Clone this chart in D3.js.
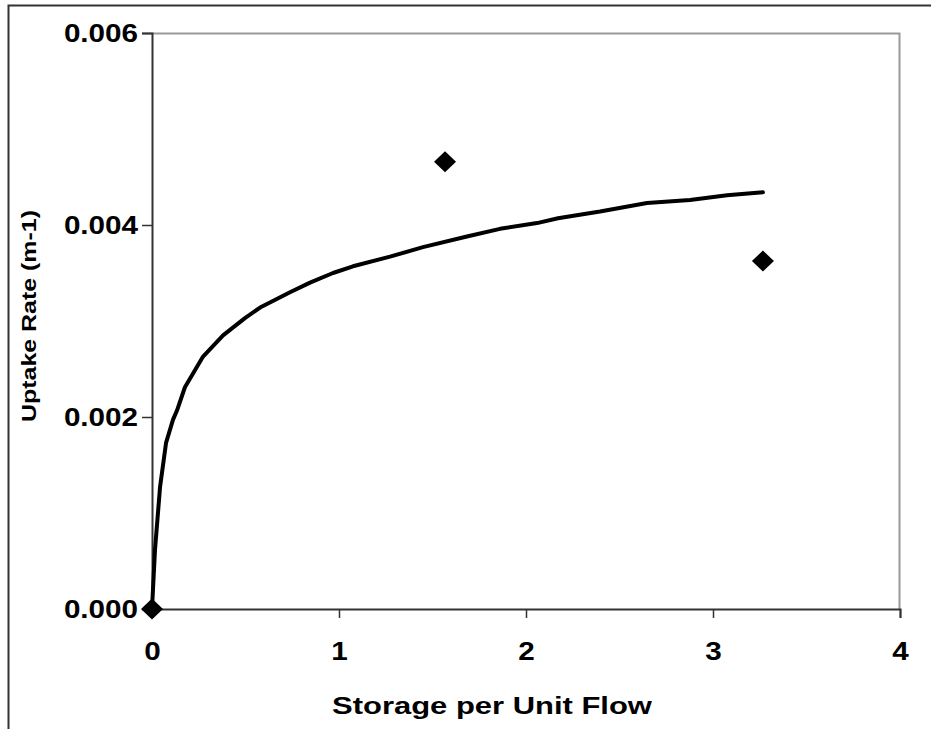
<!DOCTYPE html>
<html>
<head>
<meta charset="utf-8">
<script src="https://cdn.jsdelivr.net/npm/d3@7"></script>
<style>
  html, body { margin: 0; padding: 0; background: #fff; }
  svg { display: block; }
  text { font-family: "Liberation Sans", Arial, sans-serif; font-weight: bold; fill: #000; }
</style>
</head>
<body>
<svg id="chart" width="931" height="729"></svg>
<script>
// Measured uptake rate vs. storage per unit flow
const obsX = [0, 1.567, 3.267];
const obsY = [0, 0.00466, 0.003625];

// Fitted curve through the observations
const fitX = [0, 0.016, 0.043, 0.075, 0.112, 0.134, 0.176, 0.273, 0.380, 0.497, 0.578, 0.738,
              0.845, 0.968, 1.075, 1.273, 1.449, 1.684, 1.861, 2.059, 2.171, 2.396, 2.647,
              2.877, 3.075, 3.267];
const fitY = [0, 0.000615, 0.00127, 0.00173, 0.00197, 0.00207, 0.00231, 0.00263, 0.00285,
              0.00303, 0.00314, 0.00330, 0.00340, 0.00350, 0.00357, 0.00367, 0.00377, 0.00388,
              0.00396, 0.00402, 0.00407, 0.00414, 0.00423, 0.00426, 0.00431, 0.00434];

const xTicks = [0, 1, 2, 3, 4];
const yTicks = [0, 0.002, 0.004, 0.006];
const xTitle = "Storage per Unit Flow";
const yTitle = "Uptake Rate (m-1)";

const svg = d3.select("#chart");
const plotL = 152, plotR = 900, plotT = 33, plotB = 609;

const x = d3.scaleLinear().domain([0, 4]).range([plotL, plotR]);
const y = d3.scaleLinear().domain([0, 0.006]).range([plotB, plotT]);

// outer chart frame
svg.append("rect")
  .attr("x", 8.5).attr("y", 5.5).attr("width", 940).attr("height", 760)
  .attr("fill", "none").attr("stroke", "#333").attr("stroke-width", 2);

// plot area border (top and right)
svg.append("path")
  .attr("d", `M${plotL},${plotT + 0.5}H${plotR - 0.5}V${plotB}`)
  .attr("fill", "none").attr("stroke", "#999").attr("stroke-width", 2);

// axes
const xAxis = d3.axisBottom(x).tickValues(xTicks).tickFormat(d3.format("d"))
  .tickSize(9).tickPadding(24);
const yAxis = d3.axisLeft(y).tickValues(yTicks).tickFormat(d3.format(".3f"))
  .tickSize(10).tickPadding(14);

const gx = svg.append("g").attr("transform", `translate(0,${plotB})`).call(xAxis);
const gy = svg.append("g").attr("transform", `translate(${plotL},0)`).call(yAxis);

[gx, gy].forEach(g => {
  g.select(".domain").attr("stroke", "#333").attr("stroke-width", 2);
  g.selectAll(".tick line").attr("stroke", "#333").attr("stroke-width", 1.5);
  g.selectAll(".tick text")
    .style("font-family", "'Liberation Sans', Arial, sans-serif")
    .style("font-weight", "bold")
    .style("font-size", "26px")
    .attr("fill", "#000");
});

// widen the tick labels slightly, keeping their anchor points fixed
gx.selectAll(".tick text").attr("transform", "scale(1.14,1)");
gy.selectAll(".tick text")
  .attr("x", 0)
  .attr("transform", "translate(-14,0) scale(1.14,1)");

// axis titles
svg.append("text")
  .attr("transform", `translate(492,714) scale(1.29,1)`)
  .attr("text-anchor", "middle")
  .style("font-size", "24px")
  .text(xTitle);

svg.append("text")
  .attr("transform", `translate(36,316) rotate(-90) scale(1.247,1)`)
  .attr("text-anchor", "middle")
  .style("font-size", "20px")
  .text(yTitle);

// fitted curve
const line = d3.line().x(d => x(d[0])).y(d => y(d[1]));
svg.append("path")
  .datum(d3.zip(fitX, fitY))
  .attr("d", line)
  .attr("fill", "none").attr("stroke", "#000").attr("stroke-width", 4)
  .attr("stroke-linejoin", "round").attr("stroke-linecap", "round");

// observed points as diamonds
svg.append("g").selectAll("path")
  .data(d3.zip(obsX, obsY))
  .join("path")
  .attr("transform", d => `translate(${x(d[0])},${y(d[1])})`)
  .attr("d", "M0,-10.5L11,0L0,10.5L-11,0Z")
  .attr("fill", "#000");
</script>
</body>
</html>
